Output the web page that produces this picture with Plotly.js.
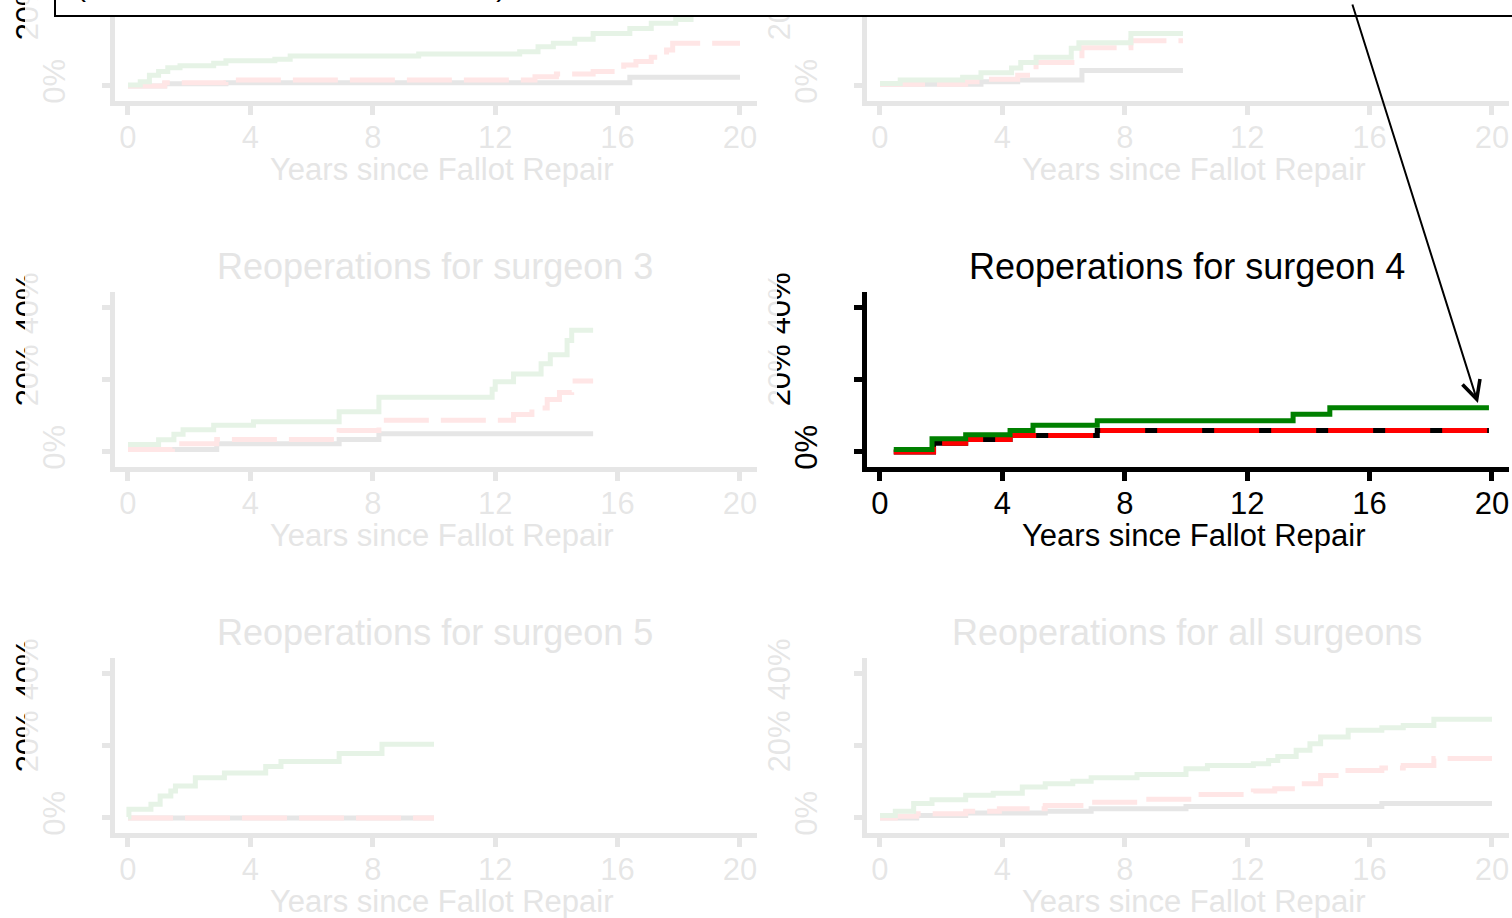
<!DOCTYPE html>
<html>
<head>
<meta charset="utf-8">
<script src="https://cdn.plot.ly/plotly-3.0.1.min.js"></script>
<style>
html,body{margin:0;padding:0;background:#fff;overflow:hidden;width:1512px;height:918px;}
#chart{position:absolute;left:0;top:-260px;width:1512px;height:1178px;}
</style>
</head>
<body>
<div id="chart"></div>
<script>
// ---------------- data (years since repair, cumulative % reoperated) ----------------
const panelTitles = ["Reoperations for surgeon 1", "Reoperations for surgeon 2",
  "Reoperations for surgeon 3", "Reoperations for surgeon 4",
  "Reoperations for surgeon 5", "Reoperations for all surgeons"];
const xTitle = "Years since Fallot Repair";
const xTicks = [0, 4, 8, 12, 16, 20];
const yTicksMain = [0, 20, 40];
const yTickTextMain = ["0%", "", ""];
const yTicksUpper = [20, 40];
const yTickTextUpper = ["20%", "40%"];
const highlighted = 3;

// surgeon 1
const s1GreenT = [0, 0.4, 0.7, 1.0, 1.3, 1.7, 2.8, 3.2, 4.8, 5.3, 9.5, 12.8, 13.4, 13.9, 14.6, 15.2, 16.4, 17.1, 17.9, 18.4, 19.0, 20.0];
const s1GreenV = [0.3, 1.2, 3.0, 4.0, 5.1, 5.6, 6.3, 7.0, 7.4, 8.3, 8.9, 9.5, 10.9, 11.9, 13.0, 14.6, 16.0, 17.4, 18.5, 22.0, 24.0, 24.0];
const s1RedT = [0, 1.2, 3.2, 13.3, 14.0, 15.2, 16.2, 16.6, 17.1, 17.6, 17.8, 20.0];
const s1RedV = [0, 0.9, 1.7, 2.6, 3.3, 4.0, 5.8, 6.8, 8.0, 10.0, 11.9, 11.9];
const s1BlackT = [0, 1.2, 3.2, 16.4, 20.0];
const s1BlackV = [0, 0.6, 0.9, 2.4, 2.4];
// surgeon 2
const s2GreenT = [0, 0.66, 2.7, 3.3, 4.3, 4.6, 5.1, 6.25, 6.5, 8.2, 9.9];
const s2GreenV = [0.7, 1.7, 2.4, 3.7, 5.0, 6.5, 8.0, 10.5, 12.0, 14.6, 14.6];
const s2RedT = [0, 2.8, 3.5, 4.5, 5.1, 6.6, 8.2, 9.9];
const s2RedV = [0.5, 1.2, 1.9, 3.0, 6.5, 10.6, 12.6, 12.6];
const s2BlackT = [0, 3.3, 4.5, 6.6, 9.9];
const s2BlackV = [0.5, 1.2, 1.7, 4.3, 4.3];
// surgeon 3
const s3GreenT = [0, 1.0, 1.5, 1.8, 2.8, 4.1, 6.9, 8.2, 11.9, 12.0, 12.6, 13.5, 13.8, 14.35, 14.5, 15.2];
const s3GreenV = [2.1, 3.4, 4.9, 6.2, 7.4, 8.4, 11.2, 15.2, 17.4, 19.5, 21.7, 24.5, 27.0, 31.0, 33.8, 33.8];
const s3RedT = [0, 1.45, 2.9, 6.9, 8.2, 12.6, 13.2, 13.7, 14.1, 14.5, 15.2];
const s3RedV = [0.7, 2.3, 3.5, 6.0, 8.8, 10.4, 12.2, 14.6, 16.5, 19.7, 19.7];
const s3BlackT = [0, 2.9, 6.9, 8.2, 15.2];
const s3BlackV = [0.7, 2.3, 3.5, 5.1, 5.1];
// surgeon 4
const s4GreenT = [0.45, 1.7, 2.8, 4.25, 5.0, 7.1, 13.5, 14.7, 19.9];
const s4GreenV = [0.7, 3.7, 4.8, 6.0, 7.4, 8.7, 10.5, 12.3, 12.3];
const s4RedT = [0.45, 1.75, 2.8, 4.25, 7.1, 19.9];
const s4RedV = [0, 2.4, 3.5, 4.6, 6.0, 6.0];
const s4BlackT = [0.45, 1.75, 2.8, 4.25, 7.1, 19.9];
const s4BlackV = [0, 2.4, 3.5, 4.6, 6.0, 6.0];
// surgeon 5
const s5GreenT = [0, 0.03, 0.75, 1.05, 1.4, 1.55, 2.2, 3.15, 4.5, 5.0, 6.9, 8.3, 10.0];
const s5GreenV = [0.3, 2.4, 3.8, 6.1, 7.5, 8.9, 11.2, 12.5, 14.3, 15.7, 17.9, 20.5, 20.5];
const s5RedT = [0, 10.0];
const s5RedV = [0, 0];
const s5BlackT = [0, 10.0];
const s5BlackV = [0, 0];
// all surgeons
const s6GreenT = [0, 0.5, 1.1, 1.7, 2.8, 3.7, 4.65, 5.4, 6.3, 6.9, 8.4, 10.0, 10.7, 12.2, 12.7, 13.0, 13.6, 14.05, 14.4, 15.3, 16.4, 17.1, 18.1, 20.0];
const s6GreenV = [0.7, 1.9, 4.0, 5.1, 6.3, 6.9, 8.6, 9.5, 10.2, 11.2, 12.1, 13.7, 14.6, 15.1, 16.0, 17.1, 18.8, 20.6, 22.5, 24.4, 25.1, 25.7, 27.4, 27.4];
const s6RedT = [0, 0.5, 1.2, 2.8, 3.9, 5.4, 6.9, 8.5, 10.3, 12.2, 12.9, 13.65, 14.4, 15.2, 16.4, 17.1, 18.1, 20.0];
const s6RedV = [0, 0.5, 1.2, 1.9, 2.6, 3.5, 4.4, 5.2, 6.5, 7.5, 8.1, 9.5, 11.8, 13.2, 13.9, 14.6, 16.5, 16.5];
const s6BlackT = [0, 1.2, 2.8, 5.4, 6.9, 10.0, 16.4, 20.0];
const s6BlackV = [0, 0.7, 1.4, 1.9, 2.6, 3.2, 4.0, 4.0];

const panelSeries = [
  [[s1BlackT, s1BlackV], [s1RedT, s1RedV], [s1GreenT, s1GreenV]],
  [[s2BlackT, s2BlackV], [s2RedT, s2RedV], [s2GreenT, s2GreenV]],
  [[s3BlackT, s3BlackV], [s3RedT, s3RedV], [s3GreenT, s3GreenV]],
  [[s4BlackT, s4BlackV], [s4RedT, s4RedV], [s4GreenT, s4GreenV]],
  [[s5BlackT, s5BlackV], [s5RedT, s5RedV], [s5GreenT, s5GreenV]],
  [[s6BlackT, s6BlackV], [s6RedT, s6RedV], [s6GreenT, s6GreenV]]
];

// ---------------- styles & geometry ----------------
const FONT = "Liberation Sans, Arial, Helvetica, sans-serif";
const seriesStyle = [
  {color: "#000000", width: 5, dash: "solid"},
  {color: "#ff0000", width: 5, dash: "45px,12px"},
  {color: "#008000", width: 5, dash: "solid"}
];
const W = 1512, T = 260, H = 918 + T;
const fx = x => x / W;
const fy = y => 1 - (y + T) / H;
const X_RANGE = [-0.42, 20.55];
const Y_RANGE = [-4.03, 44.44];
const PX_PER_YEAR = 30.6, PX_PER_PCT = 3.6;
const axId = (c, n) => (n === 1 ? c : c + n);

const traces = [];
const layout = {
  width: W, height: H,
  margin: {l: 0, r: 0, t: 0, b: 0},
  paper_bgcolor: "#ffffff", plot_bgcolor: "rgba(0,0,0,0)",
  showlegend: false,
  font: {family: FONT, color: "#000"},
  shapes: [], annotations: []
};

for (let i = 0; i < 6; i++) {
  const n = i + 1;
  const col = i % 2, row = Math.floor(i / 2);
  const x0 = 128 + 752 * col;
  const y0 = 86 + 366 * row;
  const left = x0 + X_RANGE[0] * PX_PER_YEAR;
  const right = x0 + X_RANGE[1] * PX_PER_YEAR;
  const top = y0 - Y_RANGE[1] * PX_PER_PCT, bottom = y0 - Y_RANGE[0] * PX_PER_PCT;
  const xa = axId("x", n), ya = axId("y", n), yo = axId("y", n + 6);

  panelSeries[i].forEach((s, k) => {
    traces.push({
      x: s[0], y: s[1], xaxis: xa, yaxis: ya, type: "scatter", mode: "lines",
      line: {shape: "hv", color: seriesStyle[k].color, width: seriesStyle[k].width, dash: seriesStyle[k].dash},
      hoverinfo: "skip"
    });
  });
  // empty trace so the overlaying label axis gets its own subplot
  traces.push({x: [null], y: [null], xaxis: xa, yaxis: yo, type: "scatter", mode: "lines", hoverinfo: "skip"});

  layout[n === 1 ? "xaxis" : "xaxis" + n] = {
    domain: [fx(left), fx(right)], range: X_RANGE, anchor: ya,
    showline: true, linewidth: 5, linecolor: "#000", mirror: false,
    ticks: "outside", ticklen: 9, tickwidth: 5, tickcolor: "#000",
    tickmode: "array", tickvals: xTicks, ticktext: xTicks.map(String),
    tickfont: {family: FONT, size: 31, color: "#000"}, ticklabelstandoff: -4,
    showgrid: false, zeroline: false, fixedrange: true
  };
  layout[n === 1 ? "yaxis" : "yaxis" + n] = {
    domain: [fy(bottom), fy(top)], range: Y_RANGE, anchor: xa,
    showline: true, linewidth: 5, linecolor: "#000",
    ticks: "outside", ticklen: 8, tickwidth: 5, tickcolor: "#000",
    tickmode: "array", tickvals: yTicksMain, ticktext: yTickTextMain, tickangle: -90,
    tickfont: {family: FONT, size: 31, color: "#000"}, ticklabelstandoff: 25,
    showgrid: false, zeroline: false, fixedrange: true
  };
  layout["yaxis" + (n + 6)] = {
    overlaying: ya, anchor: xa, side: "left", range: Y_RANGE,
    showline: false, ticks: "", showticklabels: true,
    tickmode: "array", tickvals: yTicksUpper, ticktext: yTickTextUpper, tickangle: -90,
    tickfont: {family: FONT, size: 31, color: "#000"}, ticklabelstandoff: 70,
    showgrid: false, zeroline: false, fixedrange: true
  };

  const txtColor = i === highlighted ? "#000000" : "#e5e5e5";
  layout.annotations.push({
    xref: "paper", yref: "paper", x: fx(x0 + 306.75), y: fy(y0 - 186),
    xanchor: "center", yanchor: "middle", showarrow: false,
    text: panelTitles[i], font: {family: FONT, size: 36, color: txtColor}
  });
  layout.annotations.push({
    xref: "paper", yref: "paper", x: fx(x0 + 313), y: fy(y0 + 83),
    xanchor: "center", yanchor: "middle", showarrow: false,
    text: xTitle, font: {family: FONT, size: 31, color: txtColor}
  });

  if (i !== highlighted) {
    const rx0 = col === 0 ? 25 : 777;
    const rx1 = col === 0 ? 777 : 1530;
    layout.shapes.push({
      type: "rect", xref: "paper", yref: "paper", layer: "above",
      x0: fx(rx0), x1: fx(rx1), y0: fy(y0 + 136), y1: fy(y0 - 230),
      fillcolor: "#ffffff", opacity: 0.9, line: {width: 0}
    });
  }
}

// callout box with arrow to surgeon 4
layout.shapes.push({
  type: "rect", xref: "paper", yref: "paper", layer: "above",
  x0: fx(55), x1: fx(1540), y0: fy(16), y1: fy(-250),
  fillcolor: "#ffffff", line: {color: "#000", width: 2}
});
layout.annotations.push({
  xref: "paper", yref: "paper", x: fx(74), y: fy(4),
  xanchor: "left", yanchor: "bottom", align: "left", showarrow: false,
  text: "Surgeon 4 had the fewest reoperations<br>(the best results of all six charts)",
  font: {family: FONT, size: 30, color: "#000"}
});
layout.annotations.push({
  xref: "x4", yref: "y4", x: 19.54, y: 13.6, text: "",
  showarrow: true, ax: -126, ay: -400, arrowhead: 5, arrowsize: 1.8, arrowwidth: 2,
  arrowcolor: "#000", standoff: 0, startstandoff: 0
});

Plotly.newPlot("chart", traces, layout, {staticPlot: true, displayModeBar: false});
</script>
</body>
</html>
